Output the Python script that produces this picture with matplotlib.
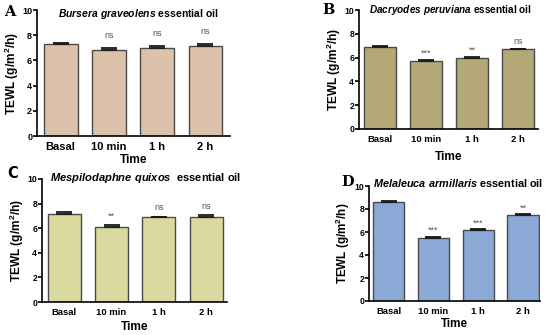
import numpy as np
import matplotlib
matplotlib.use('Agg')
import matplotlib.pyplot as plt

plt.rcParams['font.family'] = ['Liberation Sans', 'DejaVu Sans']
plt.rcParams['mathtext.fontset'] = 'custom'
plt.rcParams['mathtext.it'] = 'Liberation Sans:italic:bold'
plt.rcParams['mathtext.bf'] = 'Liberation Sans:bold'
plt.rcParams['mathtext.rm'] = 'Liberation Sans:bold'
plt.rcParams['mathtext.default'] = 'bf'

W, H = 550, 335

times = ['Basal', '10 min', '1 h', '2 h']

vals_a = [7.3, 6.85, 7.02, 7.18]
err_a = [0.1, 0.1, 0.1, 0.15]
sig_a = ['', 'ns', 'ns', 'ns']

vals_b = [6.87, 5.72, 5.98, 6.69]
err_b = [0.12, 0.05, 0.04, 0.05]
sig_b = ['', '***', '**', 'ns']

vals_c = [7.18, 6.13, 6.9, 6.94]
err_c = [0.1, 0.12, 0.05, 0.1]
sig_c = ['', '**', 'ns', 'ns']

vals_d = [8.58, 5.52, 6.18, 7.5]
err_d = [0.1, 0.05, 0.05, 0.05]
sig_d = ['', '***', '***', '**']

# axes box in px (l, t, r, b); fs = (xtick, labels, title, ytick)
panels = [
    dict(letter='A', sp='Bursera\\ graveolens', sep=' ', v=vals_a, e=err_a, s=sig_a, c='#dcc1ab',
         box=(37, 10, 230, 136), xl=(-0.49, 3.51), off=1.0, lp=(4, 12), lfam='serif',
         tp=(138, 14), ylx=12, xly=160, fs=(8, 8.6, 7.5, 6.5)),
    dict(letter='B', sp='Dacryodes\\ peruviana', sep=' ', v=vals_b, e=err_b, s=sig_b, c='#b4a876',
         box=(359, 10, 538, 129), xl=(-0.45, 3.43), off=0.6, lp=(322, 10), lfam='serif',
         tp=(450, 10), ylx=334, xly=157, fs=(6.8, 8.6, 7.2, 6.2)),
    dict(letter='C', sp='Mespilodaphne\\ quixos', sep='  ', v=vals_c, e=err_c, s=sig_c, c='#d9d9a0',
         box=(42, 179, 227, 302), xl=(-0.47, 3.44), off=0.7, lp=(7, 174), lfam='sans-serif',
         tp=(146, 178), ylx=17, xly=327, fs=(6.8, 8.6, 8, 6.2)),
    dict(letter='D', sp='Melaleuca\\ armillaris', sep=' ', v=vals_d, e=err_d, s=sig_d, c='#8aa9d6',
         box=(369, 186, 540, 301), xl=(-0.44, 3.38), off=0.55, lp=(341, 182), lfam='serif',
         tp=(458, 183), ylx=343, xly=324, fs=(6.8, 8.4, 7.8, 6.2)),
]

fig = plt.figure(figsize=(W / 100, H / 100), dpi=100)

for p in panels:
    l, t, r, b = p['box']
    ax = fig.add_axes([l / W, 1 - b / H, (r - l) / W, (b - t) / H])
    x = np.arange(len(times))
    fs_tick, fs_lab, fs_title, fs_ytick = p['fs']
    ax.bar(x, p['v'], width=0.7, color=p['c'], edgecolor='#4a4a4a', linewidth=1.0, zorder=2)
    ax.errorbar(x, p['v'], yerr=[np.zeros(len(x)), p['e']], fmt='none', ecolor='#1a1a1a',
                elinewidth=1.0, capsize=6, capthick=1.3, zorder=3)
    for xi, v, e, s in zip(x, p['v'], p['e'], p['s']):
        if s:
            ax.text(xi, v + e + p['off'], s, ha='center', va='center', fontsize=6.5, color='#555555')
    ax.set_xlim(*p['xl'])
    ax.set_ylim(0, 10)
    ax.set_yticks([0, 2, 4, 6, 8, 10])
    ax.set_xticks(x)
    ax.set_xticklabels(times, fontweight='bold', fontsize=fs_tick)
    for lab in ax.get_yticklabels():
        lab.set_fontweight('bold')
        lab.set_fontsize(fs_ytick)
    ax.spines['top'].set_visible(False)
    ax.spines['right'].set_visible(False)
    ax.spines['left'].set_linewidth(1.2)
    ax.spines['bottom'].set_linewidth(1.2)
    ax.tick_params(axis='y', width=1.2, length=3, pad=0.5)
    ax.tick_params(axis='x', length=0, pad=4)
    inv = ax.transAxes.inverted()
    ax.set_xlabel('Time', fontweight='bold', fontsize=fs_lab)
    ax.xaxis.set_label_coords(*inv.transform(((l + r) / 2, H - p['xly'])))
    ax.xaxis.label.set_va('center')
    ax.set_ylabel('TEWL (g/m$^2$/h)', fontweight='bold', fontsize=fs_lab)
    ax.yaxis.set_label_coords(*inv.transform((p['ylx'], H - (t + b) / 2)))
    ax.yaxis.label.set_va('center')
    fig.text(p['tp'][0] / W, 1 - p['tp'][1] / H,
             r'$\mathit{' + p['sp'] + '}$' + p['sep'] + 'essential oil',
             fontweight='bold', fontsize=fs_title, ha='center', va='center')
    fig.text(p['lp'][0] / W, 1 - p['lp'][1] / H, p['letter'], fontsize=10.5,
             fontweight='bold', family=p['lfam'], ha='left', va='center')

fig.savefig('out.png', dpi=100)
